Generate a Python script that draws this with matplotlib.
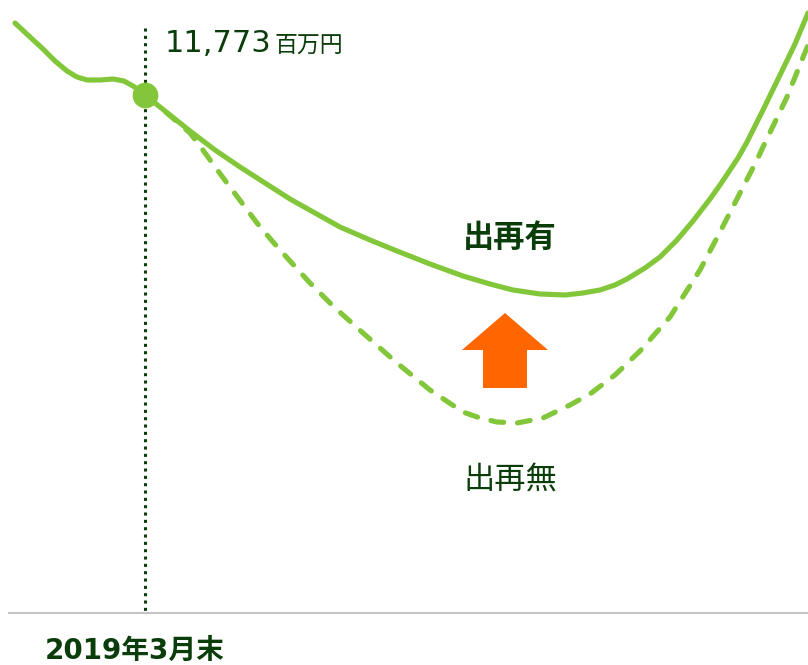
import matplotlib
matplotlib.use("Agg")
import matplotlib.pyplot as plt
from matplotlib.patches import Polygon

plt.rcParams['font.family'] = ['Noto Sans CJK JP', 'DejaVu Sans']

with_x = [15, 30, 43, 55, 67, 77, 87, 100, 113, 124, 133, 140, 145, 155, 170, 190,
          215, 240, 265, 290, 315, 340, 370, 397, 430, 463, 490, 513, 540, 565, 583,
          600, 615, 627, 645, 660, 677, 693, 710, 720, 738, 747, 763, 780, 795, 808]
with_y = [23, 37, 49, 61, 71, 77, 80, 80, 79, 81, 86, 91, 95, 103, 115, 131,
          150, 167, 183, 199, 213, 227, 240, 251, 264, 276, 284, 290, 294, 295, 293,
          290, 285, 279, 268, 257, 240, 221, 199, 185, 158, 142, 110, 75, 44, 13]

without_x = [145, 160, 175, 190, 200, 213, 227, 242, 257, 273, 290, 310, 333, 363,
             397, 430, 463, 480, 497, 517, 543, 570, 590, 615, 640, 670, 700, 720,
             740, 757, 763, 787, 808]
without_y = [95, 107, 120, 133, 146, 164, 183, 203, 223, 242, 261, 283, 306, 333,
             363, 390, 412, 418, 422, 423, 418, 405, 394, 375, 351, 317, 270, 232,
             193, 160, 147, 97, 45]

point_x = 145
point_y = 95
point_label = "11,773"
point_unit = "百万円"
label_with = "出再有"
label_without = "出再無"
date_label = "2019年3月末"

green = "#82c63a"
dark = "#0b3d0b"
orange = "#ff6600"

fig = plt.figure(figsize=(8.08, 6.65), dpi=100)
ax = fig.add_axes([0, 0, 1, 1])
ax.set_xlim(0, 808)
ax.set_ylim(665, 0)
ax.axis('off')

# baseline
ax.plot([8, 808], [613, 613], color="#c4c4c4", lw=1.5, solid_capstyle='butt')
# vertical dotted line
ax.plot([point_x, point_x], [28, 612], color=dark, lw=2.2, ls=(0, (1, 1.4)))

ax.plot(without_x, without_y, color=green, lw=3.7, ls=(0, (2.5, 2.7)),
        dash_capstyle='round', dash_joinstyle='round')
ax.plot(with_x, with_y, color=green, lw=3.7, solid_capstyle='round',
        solid_joinstyle='round')
ax.plot([point_x], [point_y], 'o', color=green, ms=18.5, mec='none')

ax.text(165, 52, point_label, fontsize=22, color=dark, family=['DejaVu Sans'],
        va='baseline', ha='left')
ax.text(274, 52, point_unit, fontsize=16.5, color=dark, va='baseline', ha='left')

ax.text(510, 238, label_with, fontsize=22.5, color=dark, weight='bold',
        ha='center', va='center')
ax.text(510, 480, label_without, fontsize=22.5, color=dark,
        ha='center', va='center')
ax.text(45, 651, date_label, fontsize=20, color=dark, weight='bold',
        family=['DejaVu Sans', 'Noto Sans CJK JP'], ha='left', va='center')

arrow = Polygon([(505, 313), (548, 350), (527, 350), (527, 388), (483, 388),
                 (483, 350), (462, 350)], closed=True, color=orange, lw=0)
ax.add_patch(arrow)

fig.savefig("out.png", dpi=100)
